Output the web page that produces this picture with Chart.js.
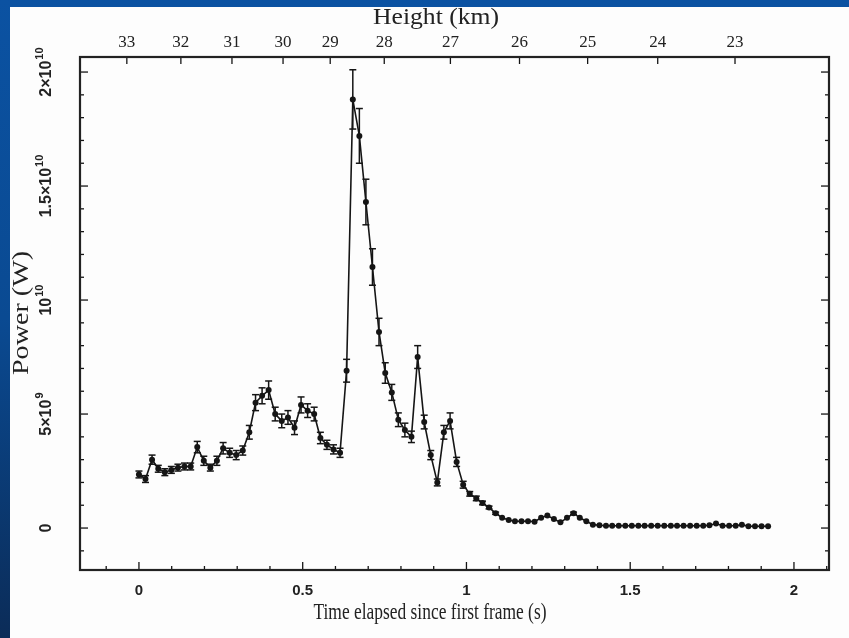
<!DOCTYPE html>
<html>
<head>
<meta charset="utf-8">
<script src="https://cdn.jsdelivr.net/npm/chart.js@4.4.1/dist/chart.umd.min.js"></script>
<style>
  html, body { margin:0; padding:0; }
  body { width:849px; height:638px; overflow:hidden; position:relative;
         background: linear-gradient(to bottom, #0b52a2 0%, #0a4a92 50%, #0b2c58 100%); }
  #panel { position:absolute; left:10px; top:7px; right:0; bottom:0; background:#fdfdfd; }
  #wrap { position:absolute; left:0; top:0; width:849px; height:638px; }
</style>
</head>
<body>
<div id="panel"></div>
<div id="wrap"><canvas id="c" width="849" height="638"></canvas></div>
<script>
// ---- data ----
const times = [0.000,0.020,0.040,0.059,0.079,0.099,0.119,0.139,0.158,0.178,
               0.198,0.218,0.238,0.257,0.277,0.297,0.317,0.337,0.356,0.376,
               0.396,0.416,0.436,0.455,0.475,0.495,0.515,0.535,0.554,0.574,
               0.594,0.614,0.634,0.653,0.673,0.693,0.713,0.733,0.752,0.772,
               0.792,0.812,0.832,0.851,0.871,0.891,0.911,0.931,0.950,0.970,
               0.990,1.010,1.030,1.049,1.069,1.089,1.109,1.129,1.148,1.168,
               1.188,1.208,1.228,1.247,1.267,1.287,1.307,1.327,1.346,1.366,
               1.386,1.406,1.426,1.445,1.465,1.485,1.505,1.525,1.544,1.564,
               1.584,1.604,1.624,1.643,1.663,1.683,1.703,1.723,1.742,1.762,
               1.782,1.802,1.822,1.841,1.861,1.881,1.901,1.921];
// power in units of 1e9 W
const powerGW = [2.35,2.15,3.0,2.6,2.45,2.55,2.65,2.7,2.7,3.55,
                 2.95,2.65,2.95,3.5,3.3,3.2,3.4,4.2,5.5,5.8,
                 6.05,5.0,4.7,4.85,4.4,5.4,5.15,5.0,3.95,3.65,
                 3.45,3.3,6.9,18.8,17.2,14.3,11.45,8.6,6.8,5.95,
                 4.75,4.3,4.0,7.5,4.65,3.2,2.0,4.2,4.7,2.9,
                 1.9,1.5,1.3,1.1,0.9,0.65,0.45,0.35,0.3,0.3,
                 0.3,0.28,0.45,0.55,0.4,0.25,0.45,0.65,0.45,0.3,
                 0.15,0.12,0.1,0.1,0.1,0.1,0.1,0.1,0.1,0.1,
                 0.1,0.1,0.1,0.1,0.1,0.1,0.1,0.1,0.12,0.2,
                 0.1,0.1,0.1,0.15,0.08,0.08,0.08,0.08];
const errorGW = [0.15,0.15,0.2,0.15,0.15,0.15,0.15,0.15,0.15,0.25,
                 0.2,0.15,0.2,0.25,0.2,0.2,0.2,0.3,0.35,0.35,
                 0.4,0.3,0.3,0.3,0.3,0.35,0.3,0.3,0.25,0.2,
                 0.2,0.2,0.5,1.3,1.2,1.0,0.8,0.6,0.45,0.35,
                 0.3,0.3,0.25,0.5,0.3,0.2,0.15,0.3,0.35,0.2,
                 0.15,0.1,0.1,0.08,0.06,0.05,0.04,0.03,0.03,0.03,
                 0.03,0.03,0.04,0.04,0.03,0.03,0.04,0.05,0.04,0.03,
                 0.02,0.02,0.02,0.02,0.02,0.02,0.02,0.02,0.02,0.02,
                 0.02,0.02,0.02,0.02,0.02,0.02,0.02,0.02,0.02,0.02,
                 0.02,0.02,0.02,0.02,0.02,0.02,0.02,0.02];
const xTickValues = [0, 0.5, 1, 1.5, 2];
const xTickLabels = ['0', '0.5', '1', '1.5', '2'];
const yTickValues = [0, 5e9, 1e10, 1.5e10, 2e10];
const yTickLabels = [['0',''], ['5\u00d710','9'], ['10','10'], ['1.5\u00d710','10'], ['2\u00d710','10']];
const heightLabels = ['33','32','31','30','29','28','27','26','25','24','23'];
const heightTimes  = [-0.037,0.128,0.284,0.440,0.584,0.749,0.951,1.162,1.370,1.584,1.820];
const xTitle = 'Time elapsed since first frame (s)';
const yTitle = 'Power (W)';
const topTitle = 'Height (km)';

const X_MIN = -0.18, X_MAX = 2.107;
const Y_MIN = -1.84e9, Y_MAX = 2.066e10;

const points = times.map((t, i) => ({x: t, y: powerGW[i] * 1e9}));
const INK = '#151515';

function fitText(ctx, text, cx, cy, font, width, rot) {
  ctx.save();
  ctx.font = font;
  const w = ctx.measureText(text).width;
  ctx.translate(cx, cy);
  if (rot) ctx.rotate(rot);
  ctx.scale(width / w, 1);
  ctx.textAlign = 'center';
  ctx.textBaseline = 'middle';
  ctx.fillText(text, 0, 0);
  ctx.restore();
}

const decor = {
  id: 'decor',
  beforeDatasetsDraw(chart) {
    const {ctx, chartArea: a, scales} = chart;
    const sx = scales.x, sy = scales.y;
    ctx.save();
    ctx.strokeStyle = INK;
    ctx.lineWidth = 1.3;
    const seg = (x1, y1, x2, y2) => { ctx.beginPath(); ctx.moveTo(x1, y1); ctx.lineTo(x2, y2); ctx.stroke(); };
    for (let k = -1; k <= 21; k++) {
      const v = k / 10;
      if (v < X_MIN || v > X_MAX) continue;
      const px = sx.getPixelForValue(v);
      const len = (k % 5 === 0) ? 8 : 4;
      seg(px, a.bottom, px, a.bottom - len);
    }
    for (const v of heightTimes) {
      const px = sx.getPixelForValue(v);
      seg(px, a.top, px, a.top + 7);
    }
    for (let k = -1; k <= 20; k++) {
      const py = sy.getPixelForValue(k * 1e9);
      const len = (k % 5 === 0) ? 8 : 4;
      seg(a.left, py, a.left + len, py);
      seg(a.right, py, a.right - len, py);
    }
    ctx.lineWidth = 2.2;
    ctx.strokeStyle = '#222';
    ctx.strokeRect(a.left, a.top, a.right - a.left, a.bottom - a.top);

    // error bars
    ctx.strokeStyle = INK;
    ctx.lineWidth = 1.5;
    times.forEach((t, i) => {
      const px = sx.getPixelForValue(t);
      const hi = sy.getPixelForValue((powerGW[i] + errorGW[i]) * 1e9);
      const lo = sy.getPixelForValue((powerGW[i] - errorGW[i]) * 1e9);
      if (lo - hi < 2) return;
      seg(px, hi, px, lo);
      seg(px - 3.5, hi, px + 3.5, hi);
      seg(px - 3.5, lo, px + 3.5, lo);
    });

    // y tick labels (rotated, with superscripts)
    ctx.fillStyle = '#222';
    yTickValues.forEach((v, i) => {
      const py = sy.getPixelForValue(v);
      const [base, sup] = yTickLabels[i];
      ctx.save();
      ctx.translate(51, py);
      ctx.rotate(-Math.PI / 2);
      ctx.font = 'bold 16px "Liberation Sans", Arial, sans-serif';
      const bw = ctx.measureText(base).width;
      ctx.font = 'bold 11px "Liberation Sans", Arial, sans-serif';
      const sw = sup ? ctx.measureText(sup).width + 1 : 0;
      const start = -(bw + sw) / 2;
      ctx.textBaseline = 'alphabetic';
      ctx.textAlign = 'left';
      ctx.font = 'bold 16px "Liberation Sans", Arial, sans-serif';
      ctx.fillText(base, start, 0);
      if (sup) {
        ctx.font = 'bold 11px "Liberation Sans", Arial, sans-serif';
        ctx.fillText(sup, start + bw + 1, -8);
      }
      ctx.restore();
    });

    // titles
    ctx.fillStyle = '#222';
    fitText(ctx, xTitle, 430, 613, '23px "Liberation Serif", "Times New Roman", serif', 233, 0);
    fitText(ctx, topTitle, 436, 18, '23px "Liberation Serif", "Times New Roman", serif', 126, 0);
    fitText(ctx, yTitle, 22, 313, '24px "Liberation Serif", "Times New Roman", serif', 124, -Math.PI / 2);
    ctx.restore();
  }
};

new Chart(document.getElementById('c'), {
  type: 'line',
  data: {
    datasets: [{
      data: points,
      borderColor: INK,
      borderWidth: 1.6,
      pointRadius: 3,
      pointBackgroundColor: INK,
      pointBorderColor: INK,
      pointBorderWidth: 0,
      tension: 0,
      fill: false
    }]
  },
  options: {
    responsive: false,
    animation: false,
    events: [],
    layout: { padding: { left: 0, right: 20, top: 0, bottom: 0 } },
    plugins: { legend: { display: false }, tooltip: { enabled: false } },
    scales: {
      x: {
        type: 'linear', position: 'bottom', min: X_MIN, max: X_MAX,
        afterBuildTicks: s => { s.ticks = xTickValues.map(v => ({value: v})); },
        ticks: {
          callback: (v) => xTickLabels[xTickValues.indexOf(v)] ?? '',
          font: { family: '"Liberation Sans", Arial, sans-serif', size: 15, weight: 'bold' },
          color: '#222', padding: 12, maxRotation: 0, autoSkip: false
        },
        grid: { display: false, drawTicks: false },
        border: { display: false },
        afterFit: s => { s.height = 68; }
      },
      x2: {
        type: 'linear', position: 'top', min: X_MIN, max: X_MAX,
        afterBuildTicks: s => { s.ticks = heightTimes.map(v => ({value: v})); },
        ticks: {
          callback: (v) => heightLabels[heightTimes.indexOf(v)] ?? '',
          font: { family: '"Liberation Serif", "Times New Roman", serif', size: 17 },
          color: '#222', padding: 4, maxRotation: 0, autoSkip: false
        },
        grid: { display: false, drawTicks: false },
        border: { display: false },
        afterFit: s => { s.height = 57; }
      },
      y: {
        type: 'linear', position: 'left', min: Y_MIN, max: Y_MAX,
        ticks: { display: false },
        grid: { display: false, drawTicks: false },
        border: { display: false },
        afterFit: s => { s.width = 80; }
      }
    }
  },
  plugins: [decor]
});
</script>
</body>
</html>
